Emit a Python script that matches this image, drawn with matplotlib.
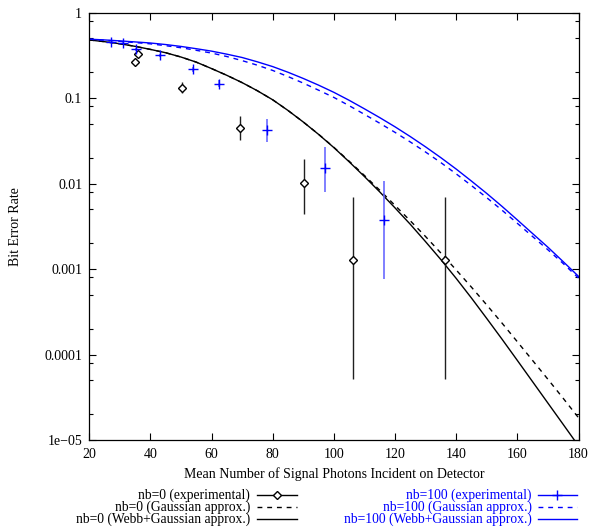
import matplotlib
matplotlib.use('Agg')
import matplotlib.pyplot as plt
from matplotlib.lines import Line2D
from matplotlib.ticker import LogLocator, NullFormatter
import numpy as np

plt.rcParams['font.family'] = ['Liberation Serif', 'DejaVu Serif']
plt.rcParams['font.size'] = 10

# measured points, nb=0 (lo/hi are the ends of the error bars)
exp0_x = [35.1, 36.0, 50.2, 69.2, 90.3, 106.3, 136.4]
exp0_y = [0.262, 0.325, 0.131, 0.0448, 0.0101, 0.00127, 0.00127]
exp0_lo = [0.245, 0.305, 0.114, 0.032, 0.00443, 5.2e-5, 5.2e-5]
exp0_hi = [0.28, 0.345, 0.154, 0.061, 0.0194, 0.00695, 0.00695]

# measured points, nb=100
exp100_x = [27.1, 30.9, 35.3, 43.0, 54.1, 62.3, 78.3, 97.2, 116.4]
exp100_y = [0.456, 0.444, 0.375, 0.319, 0.217, 0.148, 0.0429, 0.0151, 0.00378]
exp100_lo = [0.44, 0.43, 0.36, 0.305, 0.205, 0.135, 0.0303, 0.0079, 0.00077]
exp100_hi = [0.47, 0.46, 0.39, 0.333, 0.23, 0.162, 0.0574, 0.0265, 0.0108]

# model curves, sampled every 5 photons from 20 to 180
photons = [20, 25, 30, 35, 40, 45, 50, 55, 60, 65, 70, 75, 80, 85, 90, 95, 100,
           105, 110, 115, 120, 125, 130, 135, 140, 145, 150, 155, 160, 165, 170, 175, 180]
gauss0 = [0.480, 0.458, 0.433, 0.404, 0.372, 0.340, 0.303, 0.264, 0.222, 0.185, 0.152,
          0.122, 0.0957, 0.0718, 0.0526, 0.0378, 0.0266, 0.0183, 0.01245, 0.00838,
          0.00556, 0.00367, 0.0024, 0.00154, 9.77e-4, 6.14e-4, 3.80e-4, 2.33e-4,
          1.41e-4, 8.51e-5, 5.13e-5, 3.07e-5, 1.82e-5]
webb0 = [0.480, 0.458, 0.433, 0.404, 0.372, 0.340, 0.303, 0.264, 0.222, 0.185, 0.152,
         0.122, 0.0957, 0.0718, 0.0526, 0.0377, 0.0264, 0.0180, 0.0121, 0.0080,
         0.0052, 0.00334, 0.00209, 0.00129, 7.78e-4, 4.58e-4, 2.64e-4, 1.51e-4,
         8.53e-5, 4.80e-5, 2.70e-5, 1.52e-5, 8.53e-6]
gauss100 = [0.490, 0.476, 0.462, 0.447, 0.432, 0.411, 0.389, 0.363, 0.337, 0.307, 0.275,
            0.243, 0.211, 0.179, 0.150, 0.124, 0.102, 0.0817, 0.0646, 0.0509, 0.0398,
            0.0307, 0.0234, 0.0176, 0.0130, 0.00948, 0.00684, 0.00488, 0.00343,
            0.00240, 0.00168, 0.00116, 7.85e-4]
webb100 = [0.490, 0.480, 0.468, 0.455, 0.442, 0.424, 0.403, 0.379, 0.355, 0.327, 0.299,
           0.266, 0.234, 0.201, 0.170, 0.142, 0.117, 0.0944, 0.0750, 0.0592, 0.0462,
           0.0355, 0.0269, 0.0201, 0.0148, 0.0107, 0.00767, 0.00541, 0.00376,
           0.00260, 0.00180, 0.00122, 8.22e-4]

ytick_vals = [1, 0.1, 0.01, 0.001, 0.0001, 1e-5]
ytick_labels = ['1', '0.1', '0.01', '0.001', '0.0001', '1e\u221205']
xtick_vals = [20, 40, 60, 80, 100, 120, 140, 160, 180]

labels0 = ['nb=0 (experimental)', 'nb=0 (Gaussian approx.)', 'nb=0 (Webb+Gaussian approx.)']
labels100 = ['nb=100 (experimental)', 'nb=100 (Gaussian approx.)', 'nb=100 (Webb+Gaussian approx.)']

BLUE = '#0000ff'
dash = (3.5, 3.5)

fig = plt.figure(figsize=(5.89, 5.31), dpi=100)
ax = fig.add_axes([0.1514, 0.1714, 0.8308, 0.8047])

# curves
ax.plot(photons, gauss0, color='black', lw=1.0, dashes=dash)
ax.plot(photons, webb0, color='black', lw=1.0)
ax.plot(photons, gauss100, color=BLUE, lw=1.0, dashes=dash)
ax.plot(photons, webb100, color=BLUE, lw=1.0)

# experimental points with error bars
y0 = np.array(exp0_y)
err0 = [y0 - np.array(exp0_lo), np.array(exp0_hi) - y0]
ax.errorbar(exp0_x, exp0_y, yerr=err0, fmt='D', ms=4.5, mfc='white', mec='black',
            mew=1.0, ecolor='#202020', elinewidth=1.0, capsize=0, zorder=3)

y100 = np.array(exp100_y)
err100 = [y100 - np.array(exp100_lo), np.array(exp100_hi) - y100]
ax.errorbar(exp100_x, exp100_y, yerr=err100, fmt='+', ms=7, mec=BLUE, mew=1.0,
            ecolor='#6a6aff', elinewidth=1.2, capsize=0, zorder=3)

ax.set_yscale('log')
ax.set_xlim(20, 180)
ax.set_ylim(1e-5, 1)
ax.set_xticks(xtick_vals)
ax.set_xticklabels([str(v) for v in xtick_vals])
ax.set_yticks(ytick_vals)
ax.set_yticklabels(ytick_labels)
ax.yaxis.set_minor_locator(LogLocator(base=10, subs=(2, 5, 8)))
ax.yaxis.set_minor_formatter(NullFormatter())

ax.tick_params(which='both', direction='in', top=True, right=True, width=0.8,
               labelsize=10)
ax.tick_params(which='major', length=5.2)
ax.tick_params(axis='x', pad=5.5)
ax.tick_params(axis='y', pad=5)
ax.tick_params(which='minor', length=3)
for sp in ax.spines.values():
    sp.set_linewidth(0.9)

ax.set_xlabel('Mean Number of Signal Photons Incident on Detector', fontsize=10)
ax.xaxis.set_label_coords(0.5, -0.064)
ax.set_ylabel('Bit Error Rate', fontsize=10)
ax.yaxis.set_label_coords(-0.138, 0.5)

# key below the plot, two columns
rows = [0.0680, 0.0450, 0.0220]
columns = [
    (labels0, 'black', 'D', 0.4245, 0.4363, 0.5042),
    (labels100, BLUE, '+', 0.9027, 0.9139, 0.9791),
]
for labels, col, mk, tx, x0, x1 in columns:
    for i, (lab, yy) in enumerate(zip(labels, rows)):
        fig.text(tx, yy, lab, ha='right', va='center', color=col, fontsize=9.8)
        style = dict(color=col, lw=1.0, transform=fig.transFigure)
        if i == 1:
            style['dashes'] = dash
        fig.add_artist(Line2D([x0, x1], [yy, yy], **style))
        if i == 0:
            fig.add_artist(Line2D([(x0 + x1) / 2], [yy], marker=mk, ms=4.5 if mk == 'D' else 7,
                                  mfc='white', mec=col, mew=1.0, color=col,
                                  transform=fig.transFigure))

fig.savefig('out.png', dpi=100)
